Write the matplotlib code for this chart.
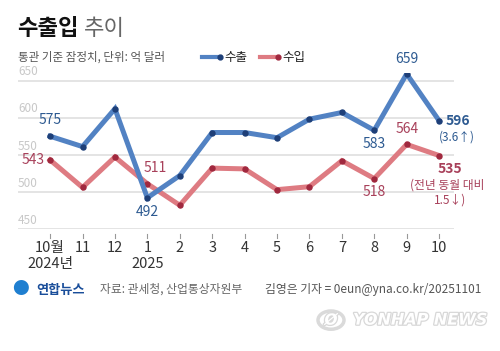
import matplotlib.pyplot as plt
import matplotlib.transforms as mtransforms
import matplotlib.patheffects as pe
from matplotlib.patches import Circle

plt.rcParams['font.family'] = ['Noto Sans CJK KR', 'DejaVu Sans']

months = ['10월', '11', '12', '1', '2', '3', '4', '5', '6', '7', '8', '9', '10']
years = ['2024년', '', '', '2025', '', '', '', '', '', '', '', '', '']
exports = [575, 561, 612, 492, 522, 580, 580, 573, 598, 607, 583, 659, 596]
# last import point is drawn near 549 in the source although labelled 535
imports = [543, 506, 547, 511, 482, 532, 531, 503, 507, 542, 518, 564, 549]
import_labels = ['543', '511', '518', '564', '535']

blue, blue_dot, blue_txt = '#5282c3', '#1e3f78', '#2d5a91'
red, red_dot, red_txt = '#de7b82', '#a0283e', '#a8405a'

fig = plt.figure(figsize=(5, 3.51), dpi=100)
ax = fig.add_axes([0.036, 0.3476, 0.872, 0.444])
x = list(range(len(months)))

ax.plot(x, imports, color=red, lw=3.6, solid_joinstyle='miter', zorder=3)
ax.plot(x, imports, ls='none', marker='o', ms=3.6, color=red_dot, zorder=4)
ax.plot(x, exports, color=blue, lw=3.6, solid_joinstyle='miter', zorder=5)
ax.plot(x, exports, ls='none', marker='o', ms=3.6, color=blue_dot, zorder=6)

ax.set_xlim(-0.99, 12.46)
ax.set_ylim(450, 660)
for v in [450, 500, 550, 600, 650]:
    ax.axhline(v, color='#e2e2e2', lw=1.3, zorder=1)
    ax.text(-0.99, v + 3, str(v), color='#c8c8c8', fontsize=8.5, ha='left', va='bottom')
for s in ax.spines.values():
    s.set_visible(False)
ax.set_xticks([])
ax.set_yticks([])

trans = mtransforms.blended_transform_factory(ax.transData, ax.transAxes)
for i, (m, y) in enumerate(zip(months, years)):
    ax.plot([i, i], [-0.035, -0.06], color='#999999', lw=0.8, transform=trans, clip_on=False)
    ax.text(i, -0.125, m, transform=trans, ha='center', va='center', fontsize=10.5, color='#333333')
    if y:
        ax.text(i, -0.225, y, transform=trans, ha='center', va='center', fontsize=10.5, color='#333333')

fs = 10
ax.annotate(f'{exports[0]}', (0, exports[0]), xytext=(0, 7), textcoords='offset points', ha='center', va='bottom', color=blue_txt, fontsize=fs)
ax.annotate(import_labels[0], (0, imports[0]), xytext=(-4, 0), textcoords='offset points', ha='right', va='center', color=red_txt, fontsize=fs)
ax.annotate(f'{exports[3]}', (3, exports[3]), xytext=(0, -5), textcoords='offset points', ha='center', va='top', color=blue_txt, fontsize=fs)
ax.annotate(import_labels[1], (3, imports[3]), xytext=(-3, 6), textcoords='offset points', ha='left', va='bottom', color=red_txt, fontsize=fs)
ax.annotate(f'{exports[10]}', (10, exports[10]), xytext=(0, -5), textcoords='offset points', ha='center', va='top', color=blue_txt, fontsize=fs)
ax.annotate(import_labels[2], (10, imports[10]), xytext=(0, -5), textcoords='offset points', ha='center', va='top', color=red_txt, fontsize=fs)
ax.annotate(f'{exports[11]}', (11, exports[11]), xytext=(0, 6), textcoords='offset points', ha='center', va='bottom', color=blue_txt, fontsize=fs)
ax.annotate(import_labels[3], (11, imports[11]), xytext=(0, 6), textcoords='offset points', ha='center', va='bottom', color=red_txt, fontsize=fs)
ax.annotate(f'{exports[12]}', (12, exports[12]), xytext=(5, 0), textcoords='offset points', ha='left', va='center', color=blue_txt, fontsize=fs, fontweight='bold')
ax.annotate('(3.6↑)', (12, exports[12]), xytext=(13, -12), textcoords='offset points', ha='center', va='center', color=blue_txt, fontsize=8.5)
ax.annotate(import_labels[4], (12, imports[12]), xytext=(8, -10), textcoords='offset points', ha='center', va='center', color=red_txt, fontsize=fs, fontweight='bold')
ax.annotate('(전년 동월 대비', (12, imports[12]), xytext=(6, -21), textcoords='offset points', ha='center', va='center', color=red_txt, fontsize=8.5)
ax.annotate('1.5↓)', (12, imports[12]), xytext=(8, -32), textcoords='offset points', ha='center', va='center', color=red_txt, fontsize=8.5)

# header
fig.text(0.034, 0.92, '수출입', fontsize=16, fontweight='bold', color='#111111', va='center')
fig.text(0.168, 0.92, '추이', fontsize=16, fontweight='light', color='#666666', va='center')
fig.text(0.036, 0.837, '통관 기준 잠정치, 단위: 억 달러', fontsize=8.3, color='#555555', va='center')
leg_y = 0.837
fig.add_artist(plt.Line2D([0.404, 0.44], [leg_y, leg_y], color=blue, lw=3, transform=fig.transFigure))
fig.add_artist(plt.Line2D([0.44], [leg_y], marker='o', ms=3.5, color=blue_dot, transform=fig.transFigure))
fig.text(0.448, leg_y, '수출', fontsize=9, color='#222222', va='center')
fig.add_artist(plt.Line2D([0.52, 0.556], [leg_y, leg_y], color=red, lw=3, transform=fig.transFigure))
fig.add_artist(plt.Line2D([0.556], [leg_y], marker='o', ms=3.5, color=red_dot, transform=fig.transFigure))
fig.text(0.564, leg_y, '수입', fontsize=9, color='#222222', va='center')

# footer
fig.text(0.025, 0.175, '●', fontsize=12, color='#1f7fd0', va='center')
fig.text(0.072, 0.175, '연합뉴스', fontsize=9.5, fontweight='bold', color='#1a4e9a', va='center')
fig.text(0.2, 0.175, '자료: 관세청, 산업통상자원부', fontsize=8.5, color='#666666', va='center')
fig.text(0.53, 0.175, '김영은 기자 = 0eun@yna.co.kr/20251101', fontsize=8.5, color='#555555', va='center')

# watermark
halo = [pe.withStroke(linewidth=1.8, foreground='#d8d8d8')]
fig.add_artist(Circle((0.662, 0.088), 0.026, transform=fig.transFigure, facecolor='white',
                      edgecolor='#dadada', lw=2.5))
fig.text(0.662, 0.088, 'Ø', fontsize=11, fontstyle='italic', fontweight='bold', color='white',
         ha='center', va='center', family='DejaVu Sans', path_effects=halo)
fig.text(0.975, 0.088, 'YONHAP NEWS', fontsize=11.5, fontweight='bold', fontstyle='italic', color='white',
         ha='right', va='center', family='DejaVu Sans', path_effects=halo)

fig.savefig('out.png', dpi=100)
